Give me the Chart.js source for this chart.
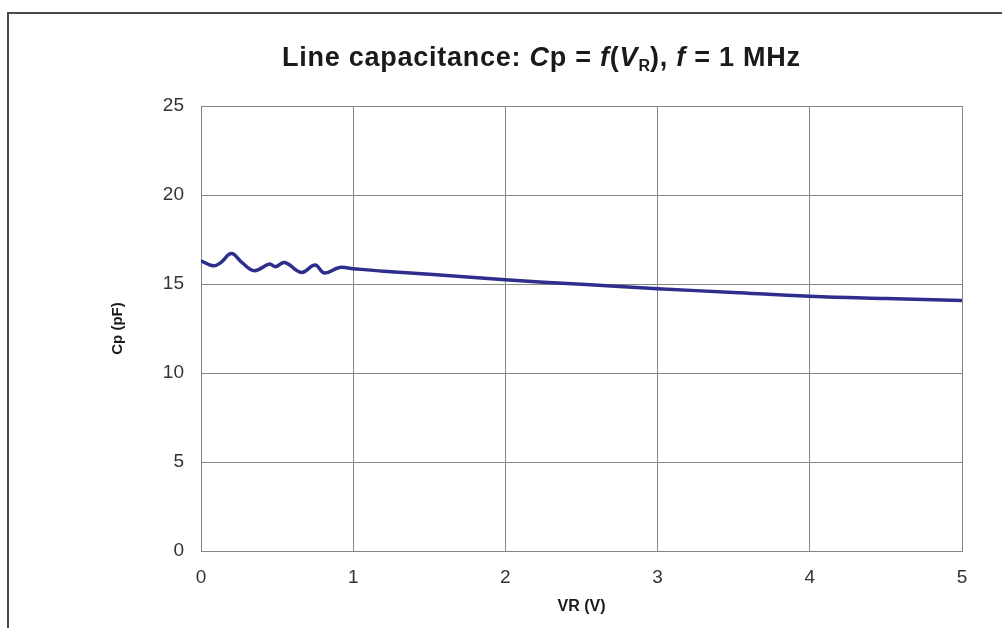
<!DOCTYPE html>
<html>
<head>
<meta charset="utf-8">
<script src="https://cdn.jsdelivr.net/npm/chart.js@4.4.1/dist/chart.umd.min.js"></script>
<style>
  html, body { margin: 0; padding: 0; background: #fff; }
  #wrap { position: relative; width: 1002px; height: 628px; }
  #frame { position: absolute; left: 7px; top: 12px; width: 995px; height: 616px;
           border-top: 2px solid #4a4a4a; border-left: 2px solid #4a4a4a; box-sizing: border-box; }
  #title { position: absolute; left: 282px; top: 42px; font-family: "Liberation Sans", Arial, sans-serif;
           font-weight: bold; font-size: 27px; letter-spacing: 0.75px; color: #1a1a1a; white-space: nowrap; }
  #title sub { font-size: 16px; vertical-align: -5px; line-height: 0; letter-spacing: 0; }
  #chart { position: absolute; left: 0; top: 0; }
</style>
</head>
<body>
<div id="wrap">
  <canvas id="chart" width="1002" height="628"></canvas>
  <div id="frame"></div>
  <div id="title">Line capacitance: <i>C</i>p = <i>f</i>(<i>V</i><sub>R</sub>), <i>f</i> = 1 MHz</div>
</div>
<script>
// values
var vr = [0, 0.08, 0.13, 0.20, 0.27, 0.35, 0.45, 0.49, 0.55, 0.66, 0.75, 0.81, 0.91, 1.0, 1.2, 1.5, 2.0, 2.5, 3.0, 3.5, 4.0, 4.5, 5.0];
var cp = [16.30, 16.02, 16.2, 16.71, 16.2, 15.75, 16.12, 15.97, 16.21, 15.65, 16.07, 15.62, 15.93, 15.86, 15.72, 15.55, 15.24, 14.98, 14.74, 14.52, 14.31, 14.18, 14.07];

var xTicks = [0, 1, 2, 3, 4, 5];
var yTicks = [0, 5, 10, 15, 20, 25];

var points = [];
for (var i = 0; i < vr.length; i++) {
    points.push({x: vr[i], y: cp[i]});
}

var gridColor = '#858585';
var tickFont = {family: '"Liberation Sans", Arial, sans-serif', size: 19};

var ctx = document.getElementById('chart').getContext('2d');
var chart = new Chart(ctx, {
    type: 'line',
    data: {
        datasets: [{
            data: points,
            borderColor: '#2e2e8c',
            borderWidth: 3.5,
            pointRadius: 0,
            tension: 0.4,
            fill: false
        }]
    },
    options: {
        responsive: false,
        animation: false,
        layout: {padding: {left: 109, top: 106, right: 40, bottom: 0}},
        plugins: {legend: {display: false}, tooltip: {enabled: false}, title: {display: false}},
        scales: {
            x: {
                type: 'linear',
                min: 0, max: 5,
                afterBuildTicks: function(axis){ axis.ticks = xTicks.map(function(v){ return {value: v}; }); },
                afterFit: function(axis){ axis.height = 77; },
                grid: {color: gridColor, lineWidth: 1, drawTicks: false},
                border: {color: gridColor},
                ticks: {color: '#333', font: tickFont, padding: 15},
                title: {display: true, text: 'VR (V)', color: '#1a1a1a', padding: {top: 4, bottom: 12},
                        font: {family: '"Liberation Sans", Arial, sans-serif', size: 16, weight: 'bold'}}
            },
            y: {
                min: 0, max: 25,
                afterBuildTicks: function(axis){ axis.ticks = yTicks.map(function(v){ return {value: v}; }); },
                afterFit: function(axis){ axis.width = 92; },
                grid: {color: gridColor, lineWidth: 1, drawTicks: false},
                border: {color: gridColor},
                ticks: {color: '#333', font: tickFont, padding: 17},
                title: {display: true, text: 'Cp (pF)', color: '#1a1a1a', padding: {top: 0, bottom: 0},
                        font: {family: '"Liberation Sans", Arial, sans-serif', size: 15, weight: 'bold'}}
            }
        }
    }
});
</script>
</body>
</html>
